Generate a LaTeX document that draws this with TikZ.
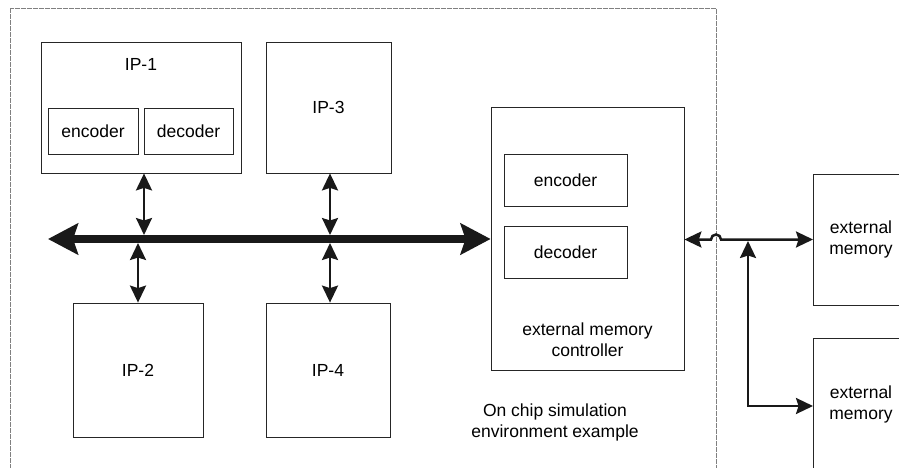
\documentclass[tikz,border=0pt]{standalone}
\usepackage{fontspec}
\setmainfont{Liberation Sans}
\usetikzlibrary{arrows.meta,calc}
\begin{document}
\begin{tikzpicture}[x=1pt,y=-1pt,
  box/.style={draw=black!85,line width=0.8pt,minimum width=#1,inner sep=0pt},
  lbl/.style={font=\fontsize{17.5}{21}\selectfont,align=center},
  link/.style={line width=2.5pt,black!90,{Stealth[length=17pt,width=16pt,inset=2.5pt]}-{Stealth[length=17pt,width=16pt,inset=2.5pt]}},
  busline/.style={line width=8pt,black!90,{Stealth[length=30pt,width=31pt,inset=5pt]}-{Stealth[length=30pt,width=31pt,inset=5pt]}},
  frame/.style={gray,line width=0.9pt,dash pattern=on 0.6pt off 0.6pt}]
\useasboundingbox (0,0) rectangle (899,468);

% simulation environment boundary
\draw[frame] (10,475) -- (10,8) -- (716,8) -- (716,475);

% IP blocks
\node[box, minimum width=200pt, minimum height=131pt] (ip1) at (141,107.5) {};
\node[lbl] (ip1t) at (141,64) {IP-1};
\node[box, minimum width=90pt, minimum height=46pt, lbl] (enc1) at (93,131) {encoder};
\node[box, minimum width=89pt, minimum height=46pt, lbl] (dec1) at (188.5,131) {decoder};
\node[box, minimum width=125pt, minimum height=131pt, lbl] (ip3) at (328.5,107.5) {IP-3};
\node[box, minimum width=130pt, minimum height=134pt, lbl] (ip2) at (138,370) {IP-2};
\node[box, minimum width=124pt, minimum height=134pt, lbl] (ip4) at (328,370) {IP-4};

% external memory controller
\node[box, minimum width=193pt, minimum height=263pt] (emc) at (587.5,238.5) {};
\node[box, minimum width=123pt, minimum height=52pt, lbl] (enc2) at (565.5,180) {encoder};
\node[box, minimum width=123pt, minimum height=52pt, lbl] (dec2) at (565.5,252) {decoder};
\node[lbl] (emct) at (587.5,340) {external memory\\controller};

\node[lbl] (envt) at (555,422) {On chip simulation\\environment example};

% external memories (cut at the picture edge)
\draw[draw=black!85,line width=0.8pt] (905,174) -- (813,174) -- (813,305) -- (905,305);
\draw[draw=black!85,line width=0.8pt] (905,338) -- (813,338) -- (813,475) -- (905,475);
\coordinate (mem1) at (813,239.5);
\coordinate (mem2) at (813,406);
\node[lbl] (mem1t) at (861,239.5) {external\\memory};
\node[lbl] (mem2t) at (861,404) {external\\memory};

% on-chip bus
\coordinate (busL) at (48,239);
\draw[busline] (busL) -- (emc.west |- busL);

% bus taps
\draw[link] ([xshift=3pt]ip1.south) -- ($([xshift=3pt]ip1.south |- busL)+(0,-4)$);
\draw[link] (ip2.north) -- ($(ip2.north |- busL)+(0,4)$);
\draw[link] ([xshift=1.5pt]ip3.south) -- ($([xshift=1.5pt]ip3.south |- busL)+(0,-4)$);
\draw[link] ([xshift=2pt]ip4.north) -- ($([xshift=2pt]ip4.north |- busL)+(0,4)$);

% off-chip link, hopping over the boundary
\draw[link] (emc.east |- mem1) -- (711,239.5) arc[start angle=180,end angle=360,radius=5] -- (mem1);
\coordinate (junc) at (748,241);
\draw[link] (junc) -- (junc |- mem2) -- (mem2);
\end{tikzpicture}
\end{document}
